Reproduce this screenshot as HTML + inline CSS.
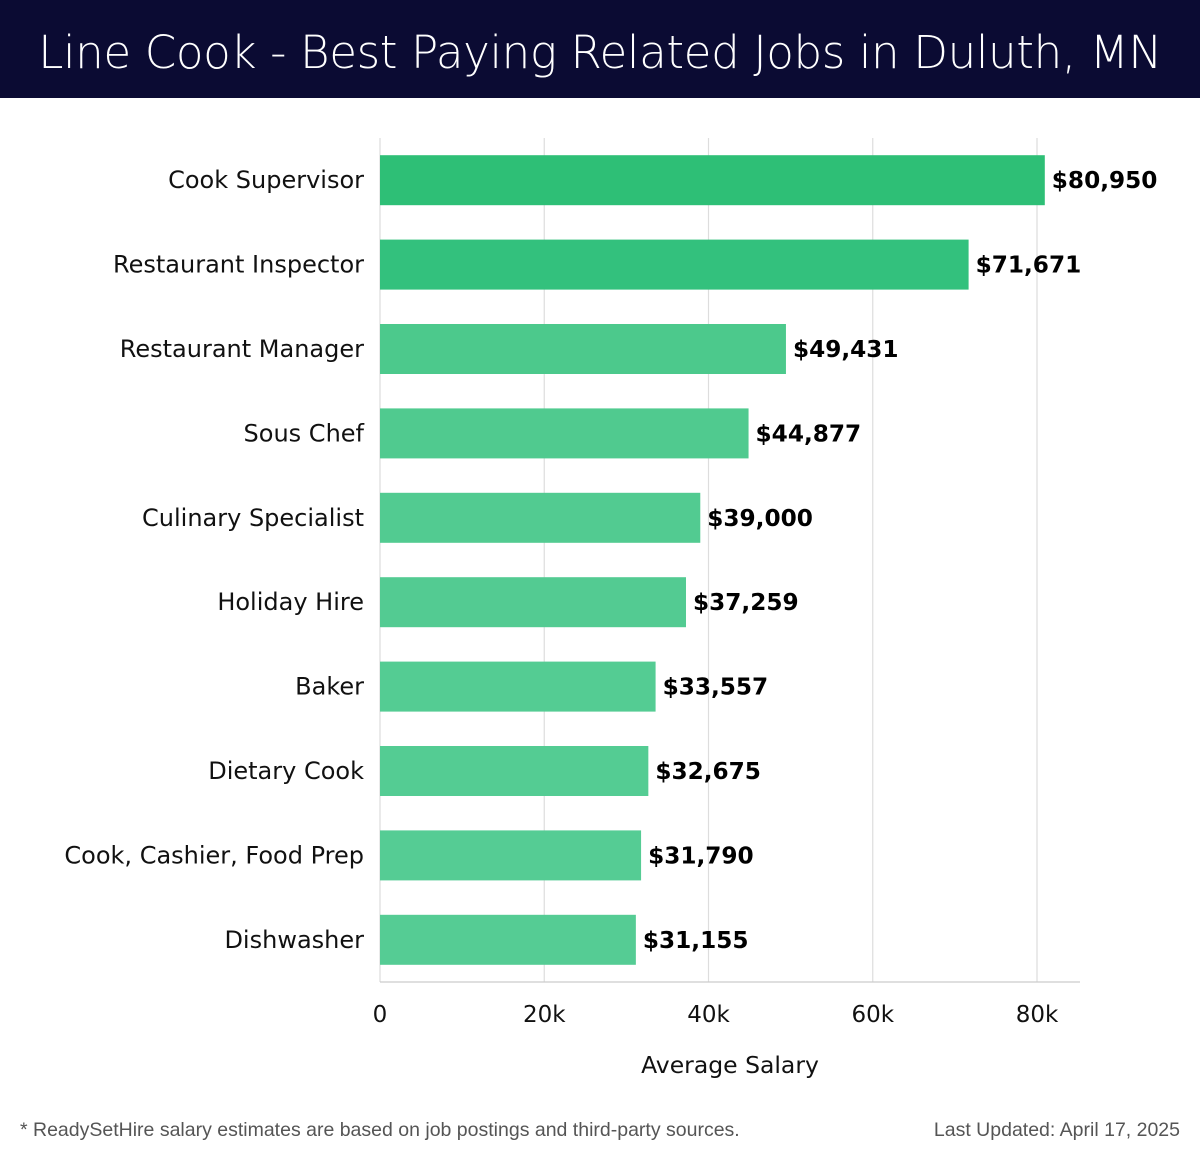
<!DOCTYPE html>
<html><head><meta charset="utf-8">
<style>
body{margin:0;width:1200px;height:1158px;background:#fff;font-family:"DejaVu Sans","Liberation Sans",sans-serif;position:relative;overflow:hidden}
#hdr{position:absolute;left:0;top:0;width:1200px;height:98px;background:#0b0b33;color:#fff;font-size:45.2px;line-height:106px;text-align:center;font-family:"DejaVu Sans","Liberation Sans",sans-serif;font-weight:300;letter-spacing:-0.4px}
.foot{position:absolute;top:1119px;font-size:19.5px;color:#555;font-family:"Liberation Sans","DejaVu Sans",sans-serif}
</style></head><body>
<div id="hdr">Line Cook - Best Paying Related Jobs in Duluth, MN</div>
<svg id="chart" width="1200" height="1158" style="position:absolute;left:0;top:0"></svg>
<div class="foot" style="left:20px">* ReadySetHire salary estimates are based on job postings and third-party sources.</div>
<div class="foot" style="right:20px">Last Updated: April 17, 2025</div>
<script>
const categories=["Cook Supervisor","Restaurant Inspector","Restaurant Manager","Sous Chef","Culinary Specialist","Holiday Hire","Baker","Dietary Cook","Cook, Cashier, Food Prep","Dishwasher"];
const salaries=[80950,71671,49431,44877,39000,37259,33557,32675,31790,31155];
const valueLabels=["$80,950","$71,671","$49,431","$44,877","$39,000","$37,259","$33,557","$32,675","$31,790","$31,155"];
const ticks=[0,20000,40000,60000,80000];
const tickLabels=["0","20k","40k","60k","80k"];
const colors=["#2ebf76","#33c17d","#4cc98c","#50ca8f","#52cb91","#53cb92","#54cc93","#54cc93","#55cc94","#55cc94"];
const NS="http://www.w3.org/2000/svg";
const svg=document.getElementById('chart');
const x0=380,pxPerUnit=(1037-380)/80000,plotTop=138,plotBottom=982,plotRight=1080;
const x=v=>x0+v*pxPerUnit;
const step=(plotBottom-plotTop)/categories.length;
const y=i=>plotTop+i*step+(step-50)/2;
function mk(t,a){const e=document.createElementNS(NS,t);for(const k in a)e.setAttribute(k,a[k]);svg.appendChild(e);return e;}
ticks.forEach((t,i)=>{
 const g=mk('line',{x1:x(t),x2:x(t),y1:plotTop,y2:plotBottom,stroke:'#ddd','stroke-width':1.2});
 
 
 const tl=mk('text',{x:x(t),y:1022,'text-anchor':'middle','font-size':23,fill:'#111'});tl.textContent=tickLabels[i];
 
 
});
categories.forEach((c,i)=>{
 const r=mk('rect',{x:x0,y:y(i),width:x(salaries[i])-x0,height:50,fill:colors[i]});
 
 
 const l=mk('text',{x:364,y:y(i)+33,'text-anchor':'end','font-size':24,fill:'#111'});l.textContent=c;
 
 
 const v=mk('text',{x:x(salaries[i])+7,y:y(i)+33,'font-size':23.2,'font-weight':'bold',fill:'#000'});v.textContent=valueLabels[i];
 
 
});
const ax=mk('line',{x1:x0,x2:plotRight,y1:plotBottom,y2:plotBottom,stroke:'#ccc','stroke-width':1.2});


const xt=mk('text',{x:730,y:1073,'text-anchor':'middle','font-size':23.5,fill:'#111'});xt.textContent='Average Salary';


</script>
</body></html>
